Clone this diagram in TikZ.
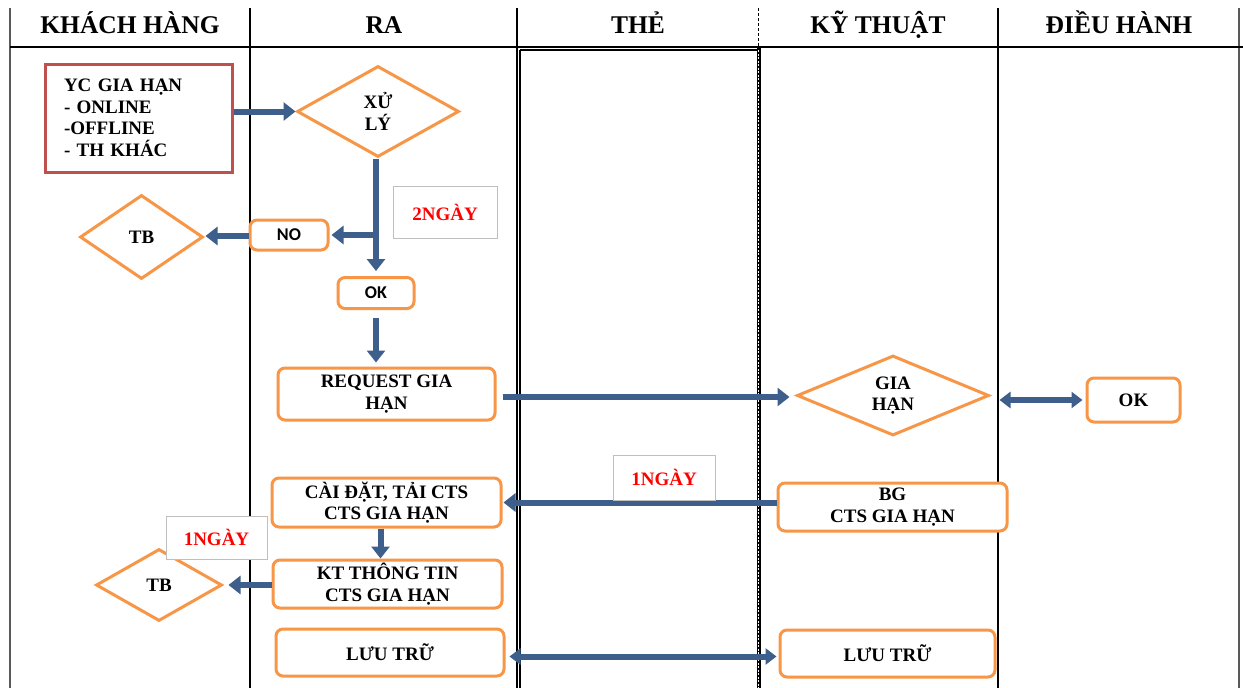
\documentclass[tikz,border=0pt]{standalone}
\usepackage{fontspec}
\setmainfont{Liberation Serif}
\newfontfamily\sansb{Carlito}
\usetikzlibrary{arrows.meta,shapes.geometric}
\definecolor{arrowblue}{RGB}{62,95,140}
\definecolor{boxorange}{RGB}{247,150,70}
\definecolor{boxred}{RGB}{192,80,77}
\definecolor{outergray}{RGB}{89,89,89}
\tikzset{
  hdr/.style={font=\fontsize{25.5}{28}\selectfont\bfseries, anchor=base, inner sep=0pt},
  body/.style={font=\fontsize{19}{21.5}\selectfont\bfseries, align=center},
  obox/.style={body, draw=boxorange, line width=3pt, rounded corners=7pt, fill=white, inner sep=0pt},
  sbox/.style={obox, font=\fontsize{18}{21}\selectfont\sansb\bfseries},
  dia/.style={body, diamond, draw=boxorange, line width=3pt, fill=white, inner sep=0pt},
  gbox/.style={draw=black!25, line width=1pt, fill=white, inner sep=0pt, text=red, font=\fontsize{19}{21}\selectfont\bfseries},
  flow/.style={draw=arrowblue, line width=6pt, -{Triangle[length=12pt,width=18pt]}},
  dflow/.style={draw=arrowblue, line width=6pt, {Triangle[length=11pt,width=16pt]}-{Triangle[length=11pt,width=16pt]}},
  lane/.style={draw=black, line width=1.2pt},
}
\begin{document}
\begin{tikzpicture}[x=1pt,y=-1pt]
\useasboundingbox (0,0) rectangle (1243,688);
\fill[white] (0,0) rectangle (1243,688);
% lanes
\draw[outergray, line width=2pt] (10,8) -- (10,688);
\draw[outergray, line width=2pt] (1239,8) -- (1239,688);
\draw[lane] (10,47) -- (1243,47);
\draw[lane] (250,8) -- (250,688);
\draw[lane] (998,8) -- (998,688);
\draw[lane] (517,8) -- (517,688);
\draw[lane] (520,50) -- (520,688);
\draw[lane] (520,50) -- (757,50);
\draw[black, line width=1pt, dash pattern=on 3pt off 2pt] (758.5,8) -- (758.5,47);
\draw[black, line width=4pt] (758.5,47) -- (758.5,688);
\draw[white, line width=1.8pt, dash pattern=on 2pt off 1.5pt] (758.5,50) -- (758.5,688);
% headers
\node[hdr] (h1) at (130,34) {KHÁCH HÀNG};
\node[hdr] (h2) at (384,34) {RA};
\node[hdr] (h3) at (638,34) {THẺ};
\node[hdr] (h4) at (878,34) {KỸ THUẬT};
\node[hdr] (h5) at (1119,34) {ĐIỀU HÀNH};
% nodes
\node[body, draw=boxred, line width=3pt, fill=white, minimum width=187pt, minimum height=108pt, inner xsep=19pt, inner ysep=0pt, text width=149pt, align=left] (yc) at (138.5,118) {YC GIA HẠN\\- ONLINE\\-OFFLINE\\- TH KHÁC};
\node[dia, minimum width=162pt, minimum height=91pt] (xuly) at (378,111.5) {XỬ\\LÝ};
\node[sbox, minimum width=78pt, minimum height=30pt] (no) at (289,235) {NO};
\node[dia, minimum width=123pt, minimum height=84pt] (tb1) at (141.5,237) {TB};
\node[gbox, minimum width=104pt, minimum height=52pt] (ng2) at (445,212) {2NGÀY};
\node[sbox, minimum width=76pt, minimum height=31pt] (ok1) at (376,293) {OK};
\node[obox, minimum width=217pt, minimum height=52pt] (req) at (386.5,394) {REQUEST GIA\\HẠN};
\node[dia, minimum width=192pt, minimum height=79pt] (gh) at (893,395.5) {GIA\\HẠN};
\node[obox, minimum width=93pt, minimum height=44pt] (ok2) at (1133.5,400) {OK};
\node[obox, minimum width=229pt, minimum height=48pt] (bg) at (892.5,507) {BG\\CTS GIA HẠN};
\node[obox, minimum width=229pt, minimum height=49pt] (cd) at (386.5,502.5) {CÀI ĐẶT, TẢI CTS\\CTS GIA HẠN};
\node[obox, minimum width=229pt, minimum height=48pt] (kt) at (387.5,584) {KT THÔNG TIN\\CTS GIA HẠN};
\node[dia, minimum width=126pt, minimum height=72pt] (tb2) at (159,585) {TB};
\node[obox, minimum width=228pt, minimum height=47pt] (luu1) at (390,652.5) {LƯU TRỮ};
\node[obox, minimum width=215pt, minimum height=47pt] (luu2) at (887.5,653.5) {LƯU TRỮ};
% connectors
\draw[flow] (yc.east |- xuly.west) -- (xuly.west);
\draw[flow, shorten >=5pt] (ok1.north |- xuly.south) -- (ok1.north);
\draw[flow, shorten >=2pt] (ok1.north |- no.east) -- (no.east);
\draw[flow, shorten >=1pt] ([yshift=-1pt]no.west) -- ([yshift=-1pt]no.west -| tb1.east);
\draw[flow, shorten <=8pt, shorten >=4pt] (ok1.south) -- (ok1.south |- req.north);
\draw[flow, shorten <=6pt, shorten >=6pt] ([yshift=-3pt]req.east) -- ([yshift=-3pt]req.east -| gh.west);
\draw[dflow, shorten <=9pt, shorten >=3pt] (ok2.west -| gh.east) -- (ok2.west);
\draw[flow, shorten >=1pt] (bg.west |- cd.east) -- (cd.east);
\draw[flow] ([xshift=-6pt]cd.south) -- ([xshift=-6pt]cd.south |- kt.north);
\draw[flow, shorten >=5pt] ([yshift=-1pt]kt.west) -- ([yshift=-1pt]kt.west -| tb2.east);
\draw[dflow, shorten <=4pt, shorten >=2pt] ([yshift=-4pt]luu1.east) -- ([yshift=-4pt]luu1.east -| luu2.west);
% day labels on top
\node[gbox, minimum width=102pt, minimum height=45pt] (ng1a) at (664,477.5) {1NGÀY};
\node[gbox, minimum width=101pt, minimum height=43pt] (ng1b) at (216.5,537.5) {1NGÀY};
\end{tikzpicture}
\end{document}
